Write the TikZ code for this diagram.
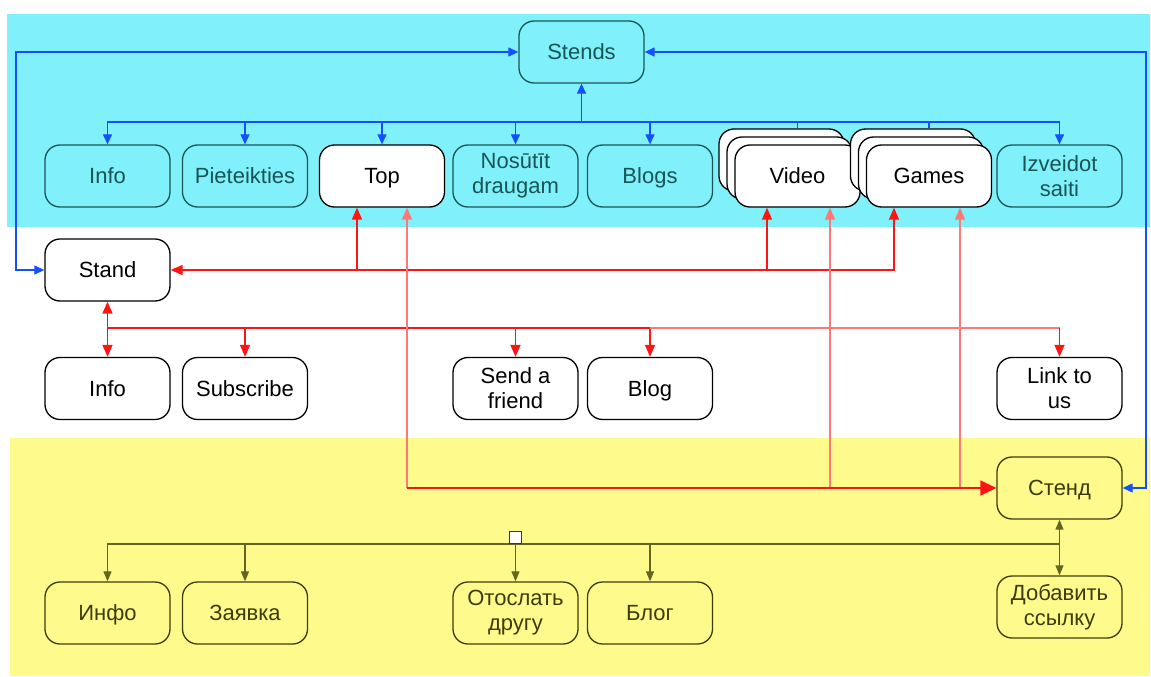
\documentclass[tikz,border=0pt]{standalone}
\usepackage{fontspec}
\setmainfont{Liberation Sans}
\usetikzlibrary{arrows.meta}
\definecolor{cyanzone}{RGB}{128,240,250}
\definecolor{yellowzone}{RGB}{255,250,140}
\definecolor{tealtext}{RGB}{25,85,85}
\definecolor{olivetext}{RGB}{60,60,10}
\definecolor{oliveline}{RGB}{100,100,35}
\definecolor{linkblue}{RGB}{20,80,255}
\definecolor{linkred}{RGB}{255,20,20}
\definecolor{linkpink}{RGB}{255,120,120}
\begin{document}
\begin{tikzpicture}[x=1pt,y=-1pt,
  font=\fontsize{22}{25}\selectfont,
  box/.style={rounded corners=15pt, minimum width=125pt, minimum height=62pt,
              align=center, inner sep=2pt, line width=1.3pt},
  oneline/.style={text height=15.5pt, text depth=0pt},
  plainbox/.style={box, draw=black, fill=white, text=black},
  lvbox/.style={box, draw=tealtext, text=tealtext},
  rubox/.style={box, draw=olivetext, text=olivetext},
  blueline/.style={draw=linkblue, line width=1.2pt, >={Triangle[length=10pt,width=9pt]}},
  redline/.style={draw=linkred, line width=1.4pt, >={Triangle[length=12pt,width=10pt]}},
  pinkline/.style={draw=linkpink, line width=1.4pt, >={Triangle[length=12pt,width=10pt]}},
  oliveconn/.style={draw=oliveline, line width=1.1pt, >={Triangle[length=10pt,width=8pt]}}
]
\useasboundingbox (0,0) rectangle (1151,677);

% background zones
\fill[cyanzone] (7,14) rectangle (1150,227);
\fill[yellowzone] (10,438) rectangle (1150,676);

% Latvian pages
\node[lvbox,oneline] (stends) at (581.5,52) {Stends};
\node[lvbox,oneline] (lvInfo) at (107.5,176) {Info};
\node[lvbox,oneline] (lvPiet) at (245,176) {Pieteikties};
\node[plainbox,oneline] (top) at (382,176) {Top};
\node[lvbox] (lvSend) at (515.5,176) {Nosūtīt\\draugam};
\node[lvbox,oneline] (lvBlogs) at (650,176) {Blogs};
\node[plainbox] (vidC) at (781.5,160) {};
\node[plainbox] (vidB) at (789.5,168) {};
\node[plainbox,oneline] (video) at (797.5,176) {Video};
\node[plainbox] (gamC) at (913,160) {};
\node[plainbox] (gamB) at (921,168) {};
\node[plainbox,oneline] (games) at (929,176) {Games};
\node[lvbox] (lvLink) at (1059.5,176) {Izveidot\\saiti};

% English pages
\node[plainbox,oneline] (stand) at (107.5,270) {Stand};
\node[plainbox,oneline] (enInfo) at (107.5,388.5) {Info};
\node[plainbox,oneline] (enSub) at (245,388.5) {Subscribe};
\node[plainbox] (enSend) at (515.5,388.5) {Send a\\friend};
\node[plainbox,oneline] (enBlog) at (650,388.5) {Blog};
\node[plainbox] (enLink) at (1059.5,388.5) {Link to\\us};

% Russian pages
\node[rubox,oneline] (ruStend) at (1059.5,488) {Стенд};
\node[rubox,oneline] (ruInfo) at (107.5,613) {Инфо};
\node[rubox,oneline] (ruApp) at (245,613) {Заявка};
\node[rubox] (ruSend) at (515.5,613) {Отослать\\другу};
\node[rubox,oneline] (ruBlog) at (650,613) {Блог};
\node[rubox] (ruLink) at (1059.5,607) {Добавить\\ссылку};

% blue links between the three home pages
\coordinate (blHigh) at (16,52);
\coordinate (blLow) at (16,270);
\coordinate (brHigh) at (1146,52);
\coordinate (brLow) at (1146,488);
\draw[blueline,<->] (stends.west) -- (blHigh) -- (blLow) -- (stand.west);
\draw[blueline,<->] (stends.east) -- (brHigh) -- (brLow) -- (ruStend.east);

% blue tree under Stends
\coordinate (bbus) at (581.5,122);
\draw[blueline,->] (bbus) -- (stends.south);
\draw[blueline,->] (bbus) -| (lvInfo.north);
\draw[blueline,->] (bbus) -| (lvPiet.north);
\draw[blueline,->] (bbus) -| (top.north);
\draw[blueline,->] (bbus) -| (lvSend.north);
\draw[blueline,->] (bbus) -| (lvBlogs.north);
\draw[blueline] (bbus) -| (video.north |- vidC.north);
\draw[blueline] (bbus) -| (games.north |- gamC.north);
\draw[blueline,->] (bbus) -| (lvLink.north);

% red tree: Stand to shared pages
\coordinate (r1a) at (357,270);
\coordinate (r1b) at (767,270);
\coordinate (r1c) at (894,270);
\draw[redline,<->] (stand.east) -- (r1c) -- (r1c |- games.south);
\draw[redline,->] (r1a) -- (r1a |- top.south);
\draw[redline,->] (r1b) -- (r1b |- video.south);

% red tree: Stand to English pages
\coordinate (r2) at (107.5,328);
\draw[redline,<->] (stand.south) -- (enInfo.north);
\draw[redline,->] (r2) -| (enSub.north);
\draw[redline,->] (r2) -| (enSend.north);
\draw[redline,->] (r2) -| (enBlog.north);
\draw[pinkline,-] (enBlog.north |- r2) -- (enLink.north |- r2);
\draw[redline,->] (enLink.north |- r2) -- (enLink.north);

% red tree: Стенд to shared pages
\coordinate (r3a) at (407,488);
\coordinate (r3b) at (830,488);
\coordinate (r3c) at (960,488);
\draw[pinkline,->] (r3a) -- (r3a |- top.south);
\draw[pinkline,->] (r3b) -- (r3b |- video.south);
\draw[pinkline,->] (r3c) -- (r3c |- games.south);
\draw[draw=linkred, line width=1.4pt, -{Triangle[length=16pt,width=15pt]}] (r3a) -- (ruStend.west);

% olive tree under Стенд
\coordinate (ob) at (1059.5,544);
\draw[oliveconn,<->] (ruStend.south) -- (ruLink.north);
\draw[oliveconn,->] (ob) -| (ruInfo.north);
\draw[oliveconn,->] (ob) -| (ruApp.north);
\draw[oliveconn,->] (ob) -| (ruSend.north);
\draw[oliveconn,->] (ob) -| (ruBlog.north);
\node[draw=olivetext, fill=white, line width=1pt, minimum size=12pt, inner sep=0pt,
      anchor=south] (sqmark) at (515.5,544) {};
\end{tikzpicture}
\end{document}
